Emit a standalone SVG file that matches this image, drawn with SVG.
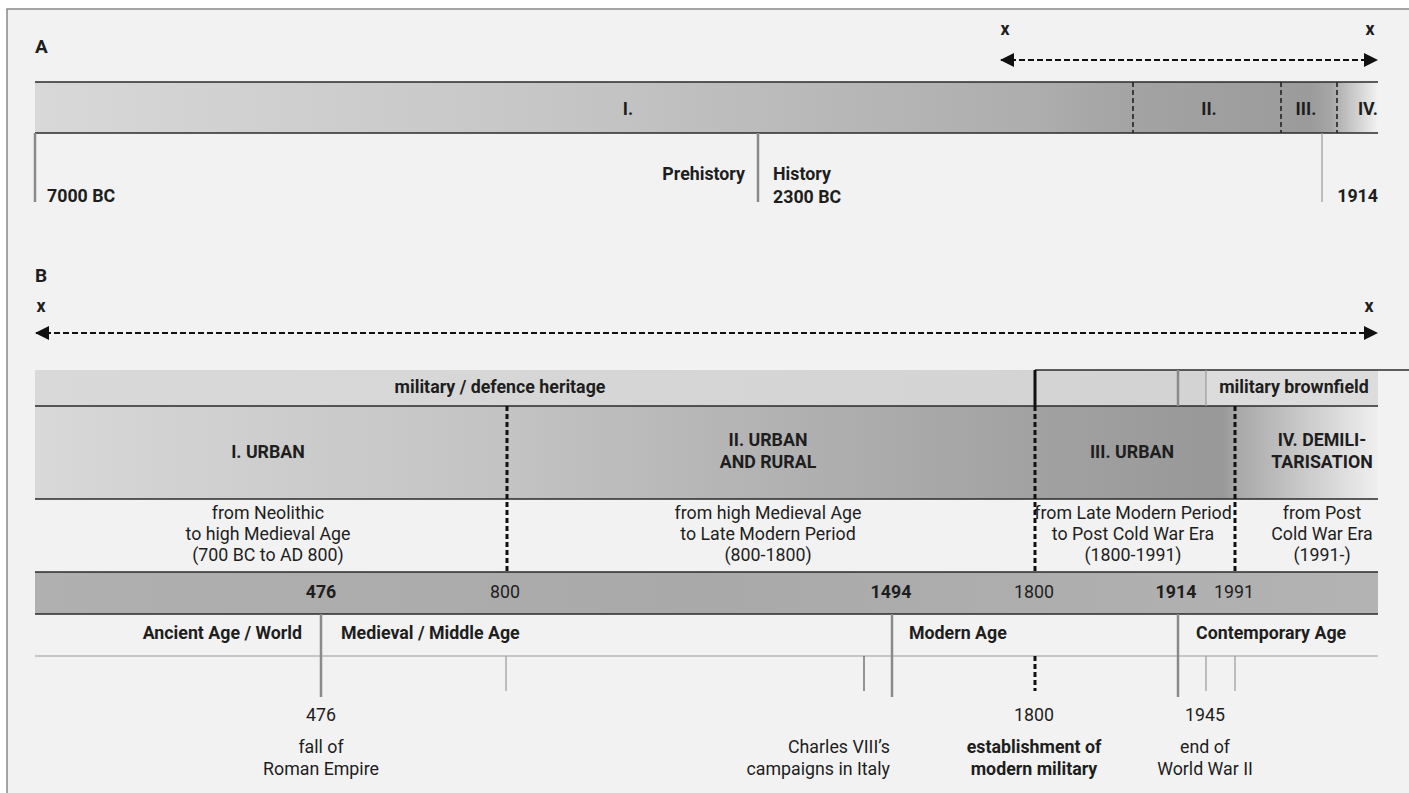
<svg xmlns="http://www.w3.org/2000/svg" width="1409" height="793" viewBox="0 0 1409 793">
<defs>
<style>
text{font-family:Roboto,"Liberation Sans",sans-serif;fill:#1e1e1e;font-size:17.8px}
.b{font-weight:bold}
.c{text-anchor:middle}
.e{text-anchor:end}
.big{font-size:19px}
.dk{stroke:#2a2a2a;stroke-width:1.5;fill:none}
.thin{stroke:#555;stroke-width:1.2;fill:none}
.gry{stroke:#8a8a8a;stroke-width:2.5;fill:none}
.lg{stroke:#999;stroke-width:1.2;fill:none}
.dashA{stroke:#222;stroke-width:1.6;stroke-dasharray:5,3;fill:none}
.dashB{stroke:#111;stroke-width:3;stroke-dasharray:5,3;fill:none}
.arrow{stroke:#111;stroke-width:1.8;stroke-dasharray:6,3;fill:none}
</style>
<linearGradient id="gA" gradientUnits="userSpaceOnUse" x1="35" y1="0" x2="1378" y2="0">
<stop offset="0" stop-color="#d8d8d8"/>
<stop offset="0.4" stop-color="#c5c5c5"/>
<stop offset="0.75" stop-color="#adadad"/>
<stop offset="0.82" stop-color="#a3a3a3"/>
<stop offset="0.95" stop-color="#9b9b9b"/>
<stop offset="0.965" stop-color="#a6a6a6"/>
<stop offset="1" stop-color="#f2f2f2"/>
</linearGradient>
<linearGradient id="gB" gradientUnits="userSpaceOnUse" x1="35" y1="0" x2="1378" y2="0">
<stop offset="0" stop-color="#d8d8d8"/>
<stop offset="0.35" stop-color="#c3c3c3"/>
<stop offset="0.74" stop-color="#a2a2a2"/>
<stop offset="0.885" stop-color="#989898"/>
<stop offset="0.895" stop-color="#a8a8a8"/>
<stop offset="1" stop-color="#efefef"/>
</linearGradient>
<linearGradient id="gM" gradientUnits="userSpaceOnUse" x1="35" y1="0" x2="1378" y2="0">
<stop offset="0" stop-color="#d9d9d9"/>
<stop offset="1" stop-color="#d2d2d2"/>
</linearGradient>
<linearGradient id="gY" gradientUnits="userSpaceOnUse" x1="35" y1="0" x2="1378" y2="0">
<stop offset="0" stop-color="#b0b0b0"/>
<stop offset="0.5" stop-color="#a9a9a9"/>
<stop offset="1" stop-color="#b3b3b3"/>
</linearGradient>
<marker id="ah" viewBox="0 0 14 14" refX="13" refY="7" markerWidth="14" markerHeight="14" markerUnits="userSpaceOnUse" orient="auto-start-reverse">
<path d="M0,0 L14,7 L0,14 Z" fill="#111"/>
</marker>
</defs>

<rect x="0" y="0" width="1409" height="793" fill="#ffffff"/>
<rect id="frame" x="7" y="9" width="1410" height="800" fill="#f2f2f2" stroke="#888" stroke-width="1.5"/>

<g id="sectionA">
<text x="35" y="53" class="b big">A</text>
<text x="1005" y="35" class="b c">x</text>
<text x="1370" y="35" class="b c">x</text>
<rect x="35" y="82" width="1343" height="51" fill="url(#gA)"/>
<line x1="35" y1="82" x2="1378" y2="82" class="dk"/>
<line x1="35" y1="133" x2="1378" y2="133" class="dk"/>
<text x="628" y="115" class="b c">I.</text>
<text x="1209" y="115" class="b c">II.</text>
<text x="1306" y="115" class="b c">III.</text>
<text x="1378" y="115" class="b e">IV.</text>
<text x="47" y="202" class="b">7000 BC</text>
<text x="745" y="180" class="b e">Prehistory</text>
<text x="773" y="180" class="b">History</text>
<text x="773" y="203" class="b">2300 BC</text>
<text x="1378" y="202" class="b e">1914</text>
</g>

<g id="sectionB-military">
<rect x="35" y="370" width="1343" height="36" fill="url(#gM)"/>
<rect x="1206" y="370" width="172" height="36" fill="#dcdcdc"/>
<text x="500" y="393" class="b c">military / defence heritage</text>
<text x="1294" y="393" class="b c">military brownfield</text>
</g>

<g id="sectionB-periods">
<rect x="35" y="406" width="1343" height="93" fill="url(#gB)"/>
<text x="268" y="458" class="b c">I. URBAN</text>
<text x="768" y="446" class="b c">II. URBAN</text>
<text x="768" y="468" class="b c">AND RURAL</text>
<text x="1132" y="458" class="b c">III. URBAN</text>
<text x="1322" y="446" class="b c">IV. DEMILI-</text>
<text x="1322" y="468" class="b c">TARISATION</text>
</g>

<g id="sectionB-descriptions">
<text x="268" y="519" class="c">from Neolithic</text>
<text x="268" y="540" class="c">to high Medieval Age</text>
<text x="268" y="561" class="c">(700 BC to AD 800)</text>
<text x="768" y="519" class="c">from high Medieval Age</text>
<text x="768" y="540" class="c">to Late Modern Period</text>
<text x="768" y="561" class="c">(800-1800)</text>
<text x="1133" y="519" class="c">from Late Modern Period</text>
<text x="1133" y="540" class="c">to Post Cold War Era</text>
<text x="1133" y="561" class="c">(1800-1991)</text>
<text x="1322" y="519" class="c">from Post</text>
<text x="1322" y="540" class="c">Cold War Era</text>
<text x="1322" y="561" class="c">(1991-)</text>
</g>

<g id="sectionB-years">
<rect x="35" y="572" width="1343" height="42" fill="url(#gY)"/>
<text x="321" y="598" class="b c">476</text>
<text x="505" y="598" class="c">800</text>
<text x="891" y="598" class="b c">1494</text>
<text x="1034" y="598" class="c">1800</text>
<text x="1176" y="598" class="b c">1914</text>
<text x="1234" y="598" class="c">1991</text>
</g>

<g id="sectionB-ages">
<text x="302" y="639" class="b e">Ancient Age / World</text>
<text x="341" y="639" class="b">Medieval / Middle Age</text>
<text x="909" y="639" class="b">Modern Age</text>
<text x="1196" y="639" class="b">Contemporary Age</text>
</g>

<g id="sectionB-events">
<text x="321" y="721" class="c">476</text>
<text x="321" y="753" class="c">fall of</text>
<text x="321" y="775" class="c">Roman Empire</text>
<text x="890" y="753" class="e">Charles VIII’s</text>
<text x="890" y="775" class="e">campaigns in Italy</text>
<text x="1034" y="721" class="c">1800</text>
<text x="1034" y="753" class="b c">establishment of</text>
<text x="1034" y="775" class="b c">modern military</text>
<text x="1205" y="721" class="c">1945</text>
<text x="1205" y="753" class="c">end of</text>
<text x="1205" y="775" class="c">World War II</text>
</g>

<g id="sectionB-labels">
<text x="35" y="282" class="b big">B</text>
<text x="41" y="312" class="b c">x</text>
<text x="1369" y="312" class="b c">x</text>
</g>

<g id="connectors">
<line x1="1001" y1="60" x2="1377" y2="60" class="arrow" marker-start="url(#ah)" marker-end="url(#ah)"/>
<line x1="36" y1="333" x2="1377" y2="333" class="arrow" marker-start="url(#ah)" marker-end="url(#ah)"/>
<line x1="1133" y1="82" x2="1133" y2="133" class="dashA"/>
<line x1="1281" y1="82" x2="1281" y2="133" class="dashA"/>
<line x1="1337" y1="82" x2="1337" y2="133" class="dashA"/>
<line x1="35" y1="133" x2="35" y2="202" class="gry" stroke-width="2"/>
<line x1="758" y1="133" x2="758" y2="202" class="gry" stroke-width="2"/>
<line x1="1322" y1="133" x2="1322" y2="202" class="lg" stroke-width="2"/>
<line x1="1035" y1="370" x2="1409" y2="370" class="dk" stroke-width="1.2"/>
<line x1="35" y1="406" x2="1378" y2="406" class="dk"/>
<line x1="1035" y1="370" x2="1035" y2="406" stroke="#111" stroke-width="3"/>
<line x1="1178" y1="370" x2="1178" y2="406" class="gry" stroke-width="3"/>
<line x1="1206" y1="370" x2="1206" y2="406" class="lg"/>
<line x1="35" y1="499" x2="1378" y2="499" class="dk" stroke-width="1.2"/>
<line x1="507" y1="406" x2="507" y2="572" class="dashB"/>
<line x1="1035" y1="406" x2="1035" y2="572" class="dashB"/>
<line x1="1235" y1="406" x2="1235" y2="572" class="dashB"/>
<line x1="35" y1="572" x2="1378" y2="572" class="dk"/>
<line x1="35" y1="614" x2="1378" y2="614" class="dk"/>
<line x1="35" y1="656" x2="1378" y2="656" class="lg"/>
<line x1="321" y1="614" x2="321" y2="697" class="gry" stroke-width="3"/>
<line x1="892" y1="614" x2="892" y2="697" class="gry" stroke-width="3"/>
<line x1="1178" y1="614" x2="1178" y2="697" class="gry" stroke-width="3"/>
<line x1="506" y1="656" x2="506" y2="691" class="lg"/>
<line x1="864" y1="656" x2="864" y2="691" class="thin"/>
<line x1="1035" y1="656" x2="1035" y2="691" class="dashB"/>
<line x1="1206" y1="656" x2="1206" y2="691" class="lg"/>
<line x1="1235" y1="656" x2="1235" y2="691" class="lg"/>
</g>
</svg>
